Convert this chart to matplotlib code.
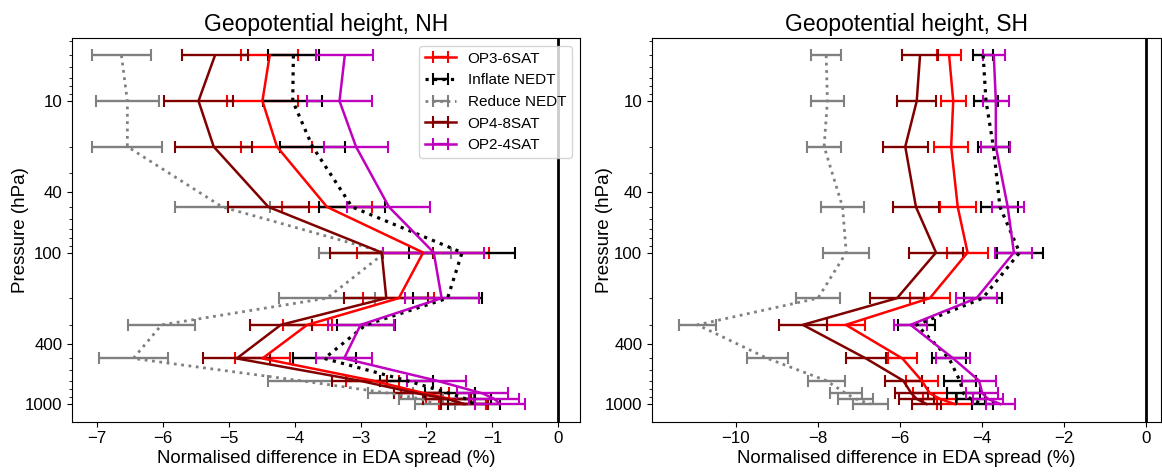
import matplotlib
matplotlib.use('Agg')
import matplotlib.pyplot as plt
from matplotlib.ticker import FixedLocator, FixedFormatter, LogLocator, NullFormatter

plt.rcParams['font.family'] = ['Liberation Sans', 'DejaVu Sans']

# Pressure levels (hPa)
levels = [5, 10, 20, 50, 100, 200, 300, 500, 700, 850, 925, 1000]

# ---- NH ----
nh_op3 = [-4.38, -4.49, -4.27, -3.51, -2.05, -2.42, -3.81, -4.49, -2.82, -2.02, -1.64, -1.45]
nh_op3_err = [0.43, 0.54, 0.54, 0.68, 1.00, 0.54, 0.37, 0.42, 0.40, 0.36, 0.36, 0.36]
nh_inflate = [-4.02, -4.03, -3.73, -3.13, -1.46, -1.68, -2.92, -3.55, -2.30, -1.65, -1.40, -1.28]
nh_inflate_err = [0.39, 0.45, 0.50, 0.50, 0.80, 0.53, 0.44, 0.48, 0.40, 0.38, 0.38, 0.40]
nh_reduce = [-6.63, -6.54, -6.54, -5.10, -2.63, -3.51, -6.02, -6.45, -3.92, -2.55, -2.08, -1.87]
nh_reduce_err = [0.45, 0.48, 0.53, 0.72, 1.00, 0.73, 0.51, 0.52, 0.49, 0.34, 0.33, 0.30]
nh_op4 = [-5.21, -5.46, -5.23, -4.40, -2.68, -2.61, -4.21, -4.88, -3.02, -2.14, -1.69, -1.42]
nh_op4_err = [0.50, 0.53, 0.58, 0.61, 0.78, 0.64, 0.47, 0.51, 0.42, 0.36, 0.36, 0.36]
nh_op2 = [-3.24, -3.32, -3.07, -2.57, -1.89, -1.77, -3.00, -3.25, -1.85, -1.15, -0.97, -0.88]
nh_op2_err = [0.43, 0.49, 0.49, 0.63, 0.77, 0.56, 0.50, 0.43, 0.45, 0.38, 0.38, 0.38]

# ---- SH ----
sh_op3 = [-4.80, -4.70, -4.75, -4.59, -4.35, -5.27, -7.32, -5.94, -5.47, -5.27, -5.02, -4.66]
sh_op3_err = [0.30, 0.31, 0.41, 0.44, 0.49, 0.49, 0.46, 0.35, 0.39, 0.41, 0.41, 0.43]
sh_inflate = [-3.97, -3.90, -3.72, -3.56, -3.08, -3.98, -5.59, -4.80, -4.54, -4.45, -4.27, -3.99]
sh_inflate_err = [0.24, 0.30, 0.37, 0.45, 0.56, 0.46, 0.45, 0.41, 0.39, 0.40, 0.35, 0.26]
sh_reduce = [-7.80, -7.77, -7.85, -7.40, -7.31, -8.00, -10.94, -9.23, -7.80, -7.32, -7.08, -6.71]
sh_reduce_err = [0.37, 0.41, 0.41, 0.52, 0.56, 0.54, 0.44, 0.51, 0.45, 0.39, 0.43, 0.43]
sh_op4 = [-5.51, -5.59, -5.87, -5.61, -5.12, -6.07, -8.37, -6.83, -5.92, -5.72, -5.59, -5.35]
sh_op4_err = [0.45, 0.47, 0.55, 0.57, 0.67, 0.66, 0.59, 0.49, 0.45, 0.41, 0.43, 0.35]
sh_op2 = [-3.71, -3.66, -3.66, -3.37, -3.22, -4.13, -5.74, -4.70, -4.07, -3.99, -3.85, -3.55]
sh_op2_err = [0.27, 0.32, 0.35, 0.39, 0.45, 0.50, 0.40, 0.41, 0.41, 0.39, 0.36, 0.35]

labels = ['OP3-6SAT', 'Inflate NEDT', 'Reduce NEDT', 'OP4-8SAT', 'OP2-4SAT']
colors = ['#ff0000', '#000000', '#808080', '#800000', '#bf00bf']
styles = ['-', ':', ':', '-', '-']
widths = [1.8, 2.3, 2.0, 1.8, 1.8]

ytick_vals = [10, 40, 100, 400, 1000]
ytick_labels = ['10', '40', '100', '400', '1000']
nh_xticks = [-7, -6, -5, -4, -3, -2, -1, 0]
sh_xticks = [-10, -8, -6, -4, -2, 0]

W, H = 1162, 472
fig = plt.figure(figsize=(W / 100, H / 100), dpi=100)
ax_nh = fig.add_axes([72 / W, (H - 421.5) / H, 508 / W, 383.5 / H])
ax_sh = fig.add_axes([652 / W, (H - 421.5) / H, 509 / W, 383.5 / H])


def draw(ax, data, title, xlim, xticks, legend, ylab_x):
    for (vals, errs), lab, c, ls, lw in zip(data, labels, colors, styles, widths):
        ax.errorbar(vals, levels, xerr=errs, color=c, ls=ls, lw=lw,
                    elinewidth=1.7, capsize=4, capthick=1.5, label=lab)
    ax.axvline(0, color='k', lw=2)
    ax.set_yscale('log')
    ax.set_ylim(1303, 3.84)
    ax.yaxis.set_major_locator(FixedLocator(ytick_vals))
    ax.yaxis.set_major_formatter(FixedFormatter(ytick_labels))
    ax.yaxis.set_minor_locator(LogLocator(base=10, subs=range(2, 10)))
    ax.yaxis.set_minor_formatter(NullFormatter())
    ax.set_xlim(*xlim)
    ax.set_xticks(xticks)
    ax.set_xticklabels([('\u2212' + str(-t)) if t < 0 else str(t) for t in xticks])
    ax.tick_params(labelsize=12.2)
    ax.set_title(title, fontsize=16.5, pad=5)
    ax.set_xlabel('Normalised difference in EDA spread (%)', fontsize=13.4, labelpad=3)
    ax.set_ylabel('Pressure (hPa)', fontsize=13.5)
    ax.yaxis.set_label_coords(ylab_x, 0.5)
    if legend:
        ax.legend(loc='upper right', fontsize=11, handlelength=2.0)


draw(ax_nh, [(nh_op3, nh_op3_err), (nh_inflate, nh_inflate_err), (nh_reduce, nh_reduce_err),
             (nh_op4, nh_op4_err), (nh_op2, nh_op2_err)],
     'Geopotential height, NH', (-7.38, 0.33), nh_xticks, True, -0.084)
draw(ax_sh, [(sh_op3, sh_op3_err), (sh_inflate, sh_inflate_err), (sh_reduce, sh_reduce_err),
             (sh_op4, sh_op4_err), (sh_op2, sh_op2_err)],
     'Geopotential height, SH', (-12.05, 0.37), sh_xticks, False, -0.077)

fig.savefig('out.png', dpi=100)
